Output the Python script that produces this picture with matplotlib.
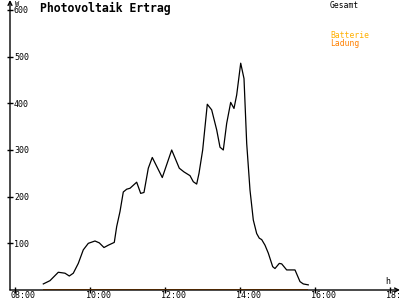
import matplotlib
matplotlib.use("Agg")
import matplotlib.pyplot as plt
from matplotlib.transforms import ScaledTranslation

# Photovoltaik Ertrag (W), time in hours
zeit = [8.755, 8.933, 9.155, 9.333, 9.448, 9.555, 9.688, 9.821, 9.955, 10.133,
        10.248, 10.373, 10.488, 10.648, 10.712, 10.8, 10.888, 10.979, 11.067, 11.245,
        11.352, 11.44, 11.555, 11.661, 11.928, 12.179, 12.381, 12.507, 12.667, 12.755,
        12.845, 12.907, 13.005, 13.128, 13.245, 13.379, 13.467, 13.555, 13.645, 13.752,
        13.84, 13.912, 14.019, 14.107, 14.179, 14.267, 14.355, 14.445, 14.515, 14.579,
        14.667, 14.755, 14.872, 14.933, 15.048, 15.112, 15.245, 15.467, 15.6, 15.688,
        15.821]
gesamt = [13, 20, 38, 36, 30, 36, 57, 86, 100, 105,
          101, 91, 96, 102, 136, 168, 210, 216, 218, 231,
          207, 209, 261, 284, 241, 300, 261, 253, 245, 232,
          227, 250, 300, 398, 386, 343, 306, 300, 357, 402,
          389, 418, 486, 453, 314, 214, 150, 121, 111, 108,
          96, 79, 50, 46, 57, 56, 43, 43, 18, 13,
          11]
ladung = [0] * len(zeit)

y_ticks = [100, 200, 300, 400, 500, 600]
x_ticks = [8, 10, 12, 14, 16, 18]
x_labels = ["08:00", "10:00", "12:00", "14:00", "16:00", "18:00"]

mono = "DejaVu Sans Mono"

fig = plt.figure(figsize=(4, 3), dpi=100)
ax = fig.add_axes([10 / 400, 10 / 300, 390 / 400, 290 / 300])
ax.set_xlim(7.867, 18.267)
ax.set_ylim(0, 621.4)

for s in ax.spines.values():
    s.set_visible(False)

# axes with arrow heads
ax.annotate("", xy=(1, 0), xytext=(0, 0), xycoords="axes fraction",
            arrowprops=dict(arrowstyle="->", lw=1, color="black",
                            shrinkA=0, shrinkB=0, mutation_scale=7))
ax.annotate("", xy=(0, 1), xytext=(0, 0), xycoords="axes fraction",
            arrowprops=dict(arrowstyle="->", lw=1, color="black",
                            shrinkA=0, shrinkB=0, mutation_scale=7))

ax.plot(zeit, gesamt, color="black", lw=0.9)
ax.plot(zeit, ladung, color="#ff8000", lw=1.4, solid_capstyle="butt")

ax.set_xticks(x_ticks)
ax.set_xticklabels([])
ax.set_yticks(y_ticks)
ax.set_yticklabels([])
ax.tick_params(direction="inout", length=5, width=1, color="black")

# tick labels as text
for v in y_ticks:
    t = ax.text(0, v, str(v), transform=ax.get_yaxis_transform(), ha="left",
                va="center", fontsize=6, family=mono)
    t.set_transform(t.get_transform() + ScaledTranslation(4 / 100, -1 / 100, fig.dpi_scale_trans))
for v, lab in zip(x_ticks, x_labels):
    t = ax.text(v, 0, lab, transform=ax.get_xaxis_transform(), ha="left",
                va="top", fontsize=6, family=mono, clip_on=False)
    t.set_transform(t.get_transform() + ScaledTranslation(-4 / 100, -1.5 / 100, fig.dpi_scale_trans))

fig.text(15 / 400, 1 - 1 / 300, "W", ha="left", va="top", fontsize=5, family=mono)
fig.text(385 / 400, 1 - 277 / 300, "h", ha="left", va="top", fontsize=6, family=mono)

fig.text(40 / 400, 1 - 2 / 300, "Photovoltaik Ertrag", ha="left", va="top",
         fontsize=8.3, family=mono, weight="bold")
fig.text(330 / 400, 1 - 1 / 300, "Gesamt", ha="left", va="top", fontsize=5.8, family=mono, color="black")
fig.text(330 / 400, 1 - 31 / 300, "Batterie", ha="left", va="top", fontsize=5.8, family=mono, color="#ffb000")
fig.text(330 / 400, 1 - 39 / 300, "Ladung", ha="left", va="top", fontsize=5.8, family=mono, color="#ff8000")

fig.savefig("out.png", dpi=100, facecolor="white")
